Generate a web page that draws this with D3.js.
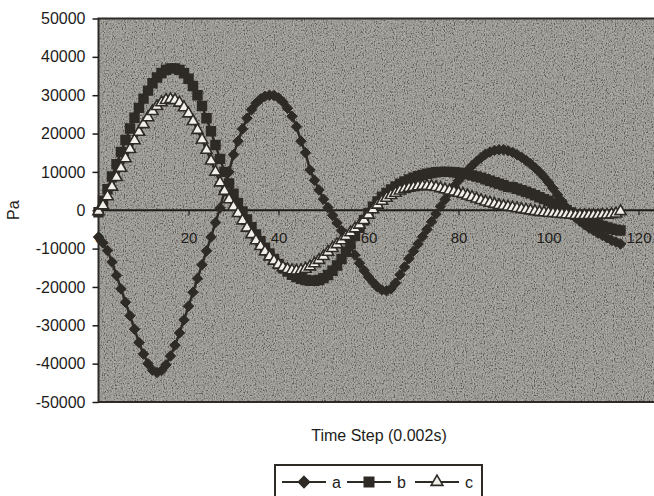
<!DOCTYPE html>
<html>
<head>
<meta charset="utf-8">
<script src="https://cdn.jsdelivr.net/npm/d3@7"></script>
<style>
  body { margin: 0; background: #fff; }
  svg { display: block; font-family: "Liberation Sans", Arial, sans-serif; }
  .axis text { fill: #1e1c1a; }
  .axis path, .axis line { stroke: #1e1c1a; }
</style>
</head>
<body>
<script>
// values, one per time step (0..116)
const seriesNames = ["a", "b", "c"];

const a = [
  -7000, -8500, -10500, -13500, -17000, -20500, -24000, -27500, -31000, -34500,
  -37500, -40000, -41700, -42300, -41800, -40300, -38000, -35200, -32000, -28600,
  -25000, -21400, -17800, -14200, -10600, -7000, -3200, 600, 5000, 10000,
  14500, 18000, 21200, 24000, 26200, 27900, 29000, 29700, 30000, 29900,
  29300, 28200, 26600, 24500, 21800, 18000, 15000, 10500, 7800, 5300,
  2900, 700, -1300, -3300, -5300, -7300, -9500, -11700, -13800, -15700,
  -17400, -18800, -20000, -20800, -21000, -20500, -19000, -16800, -14800, -12600,
  -10700, -8800, -6900, -5000, -3000, -1000, 1000, 2800, 4600, 6200,
  7700, 9100, 10400, 11600, 12700, 13700, 14600, 15200, 15600, 15800,
  15800, 15500, 15100, 14500, 13800, 13000, 12100, 11100, 10000, 8700,
  7300, 5700, 4000, 2300, 700, -700, -1900, -2900, -3800, -4600,
  -5300, -6000, -6600, -7200, -7800, -8300, -8800
];

const b = [
  -500, 2500, 5500, 8800, 12000, 15200, 18300, 21300, 24100, 26700,
  29100, 31200, 33100, 34600, 35800, 36600, 37000, 37000, 36600, 35700,
  34300, 32400, 30000, 27200, 24000, 20600, 17000, 13400, 10000, 7000,
  4300, 1900, -300, -2400, -4400, -6300, -8100, -9800, -11300, -12700,
  -14000, -15100, -16000, -16800, -17400, -17900, -18200, -18400, -18400, -18200,
  -17700, -16900, -15800, -14400, -12700, -10800, -8800, -6700, -4600, -2600,
  -700, 900, 2300, 3500, 4500, 5400, 6200, 6900, 7500, 8000,
  8500, 8900, 9200, 9500, 9700, 9900, 10000, 10000, 10000, 9900,
  9800, 9600, 9400, 9100, 8800, 8500, 8100, 7700, 7300, 6900,
  6500, 6100, 6000, 5600, 5200, 4800, 4400, 3900, 3400, 2900,
  2400, 1800, 1200, 600, 0, -600, -1200, -1800, -2300, -2800,
  -3300, -3700, -4100, -4500, -4800, -5100, -5300
];

const c = [
  -300, 1200, 3600, 6100, 8600, 11000, 13500, 15900, 18200, 20400,
  22400, 24200, 25800, 27100, 28100, 28700, 28900, 28700, 28000, 26800,
  25200, 23200, 20900, 18400, 15700, 12900, 10000, 7200, 5000, 2800,
  900, -800, -2700, -4600, -6300, -7900, -9400, -10800, -12100, -13200,
  -14200, -14900, -15400, -15700, -15800, -15700, -15300, -14700, -13900, -13000,
  -12000, -10900, -9900, -8900, -7900, -6800, -5800, -4800, -3800, -2600,
  -1200, 200, 1400, 2400, 3200, 3900, 4500, 5100, 5500, 5800,
  6000, 6200, 6300, 6300, 6200, 6000, 5700, 5400, 5100, 4800,
  4500, 4200, 3800, 3400, 3000, 2600, 2200, 1900, 1600, 1300,
  1100, 900, 700, 500, 300, 100, -100, -300, -500, -600,
  -700, -800, -900, -1000, -1100, -1200, -1300, -1300, -1300, -1300,
  -1300, -1300, -1200, -1200, -1100, -900, -300
];

const yTicks = [50000, 40000, 30000, 20000, 10000, 0, -10000, -20000, -30000, -40000, -50000];
const xTicks = [0, 20, 40, 60, 80, 100, 120];

const width = 654,
  height = 496;

const plot = { left: 98.5, top: 18.5, right: 680, bottom: 402 };

const ink = "#2e2a26";

const x = d3.scaleLinear().domain([0, 120]).range([plot.left, plot.left + 540]);
const y = d3.scaleLinear().domain([-50000, 50000]).range([plot.bottom, plot.top]);

const svg = d3
  .select("body")
  .append("svg")
    .attr("width", width)
    .attr("height", height);

// grainy scan texture for the plot area
const defs = svg.append("defs");
const grain = defs.append("filter")
    .attr("id", "grain")
    .attr("x", 0).attr("y", 0).attr("width", "100%").attr("height", "100%");
grain.append("feTurbulence")
    .attr("type", "fractalNoise")
    .attr("baseFrequency", "0.9 0.6")
    .attr("numOctaves", 2)
    .attr("seed", 7);
grain.append("feColorMatrix")
    .attr("type", "saturate")
    .attr("values", 0);
const contrast = grain.append("feComponentTransfer");
["feFuncR", "feFuncG", "feFuncB"].forEach(f => {
  contrast.append(f).attr("type", "linear").attr("slope", 3.2).attr("intercept", -1.1);
});
contrast.append("feFuncA").attr("type", "linear").attr("slope", 0).attr("intercept", 1);

svg.append("rect")
    .attr("x", plot.left)
    .attr("y", plot.top)
    .attr("width", plot.right - plot.left)
    .attr("height", plot.bottom - plot.top)
    .attr("fill", "#8e8b84");

svg.append("rect")
    .attr("x", plot.left)
    .attr("y", plot.top)
    .attr("width", plot.right - plot.left)
    .attr("height", plot.bottom - plot.top)
    .attr("filter", "url(#grain)")
    .attr("opacity", 0.3);

// plot frame (right edge falls outside the picture)
svg.append("path")
    .attr("d", `M${plot.right},${plot.top}H${plot.left}V${plot.bottom}H${plot.right}`)
    .attr("fill", "none")
    .attr("stroke", ink)
    .attr("stroke-width", 2);

// y axis
const yAxis = svg.append("g")
    .attr("class", "axis")
    .attr("transform", `translate(${plot.left},0)`)
    .call(d3.axisLeft(y).tickValues(yTicks).tickSize(6).tickPadding(7).tickFormat(d => String(d)));
yAxis.select(".domain").remove();
yAxis.selectAll("line").attr("stroke-width", 1.5);
yAxis.selectAll("text").style("font-size", "16px");

// x axis sits on the zero line
const xAxis = svg.append("g")
    .attr("class", "axis")
    .attr("transform", `translate(0,${y(0)})`)
    .call(d3.axisBottom(x).tickValues(xTicks).tickSize(5).tickPadding(17).tickFormat(d => String(d)));
xAxis.select(".domain")
    .attr("d", `M${plot.left},0H${plot.right}`)
    .attr("stroke-width", 1.8);
xAxis.selectAll("line").attr("stroke-width", 1.2);
xAxis.selectAll("text").style("font-size", "15px");

// series
const line = d3.line()
  .x((d, i) => x(i))
  .y(d => y(d));

const series = [
  { name: "a", values: a, shape: d3.symbolDiamond2, size: 70, fill: ink, sw: 1 },
  { name: "b", values: b, shape: d3.symbolSquare, size: 80, fill: ink, sw: 1.5 },
  { name: "c", values: c, shape: d3.symbolTriangle, size: 55, fill: "#f1efea", sw: 1.6 }
];

series.forEach(s => {
  const g = svg.append("g").attr("class", "series-" + s.name);

  g.append("path")
      .attr("d", line(s.values))
      .attr("fill", "none")
      .attr("stroke", ink)
      .attr("stroke-width", 2.5);

  g.selectAll("path.mark")
    .data(s.values)
    .enter()
    .append("path")
      .attr("class", "mark")
      .attr("transform", (d, i) => `translate(${x(i)},${y(d)})`)
      .attr("d", d3.symbol(s.shape, s.size))
      .attr("fill", s.fill)
      .attr("stroke", ink)
      .attr("stroke-width", s.sw);
});

// axis titles
svg.append("text")
    .attr("transform", `translate(19,${y(0)}) rotate(-90)`)
    .attr("text-anchor", "middle")
    .attr("fill", "#2a2724")
    .style("font-size", "16px")
    .text("Pa");

svg.append("text")
    .attr("x", 379)
    .attr("y", 441)
    .attr("text-anchor", "middle")
    .attr("fill", "#1e1c1a")
    .style("font-size", "16px")
    .text("Time Step (0.002s)");

// legend
const legend = svg.append("g").attr("transform", "translate(275,465)");

legend.append("rect")
    .attr("width", 207)
    .attr("height", 40)
    .attr("fill", "#fff")
    .attr("stroke", ink)
    .attr("stroke-width", 2);

const legendX = [7, 72, 140];

series.forEach((s, i) => {
  const item = legend.append("g").attr("transform", `translate(${legendX[i]},17)`);
  item.append("line")
      .attr("x1", 0)
      .attr("x2", 44)
      .attr("stroke", ink)
      .attr("stroke-width", 2.2);
  item.append("path")
      .attr("transform", "translate(22,0)")
      .attr("d", d3.symbol(s.shape, s.size * 1.1))
      .attr("fill", s.fill)
      .attr("stroke", ink)
      .attr("stroke-width", 1.6);
  item.append("text")
      .attr("x", 50)
      .attr("dy", "0.35em")
      .attr("fill", "#1e1c1a")
      .style("font-size", "16px")
      .text(s.name);
});
</script>
</body>
</html>
